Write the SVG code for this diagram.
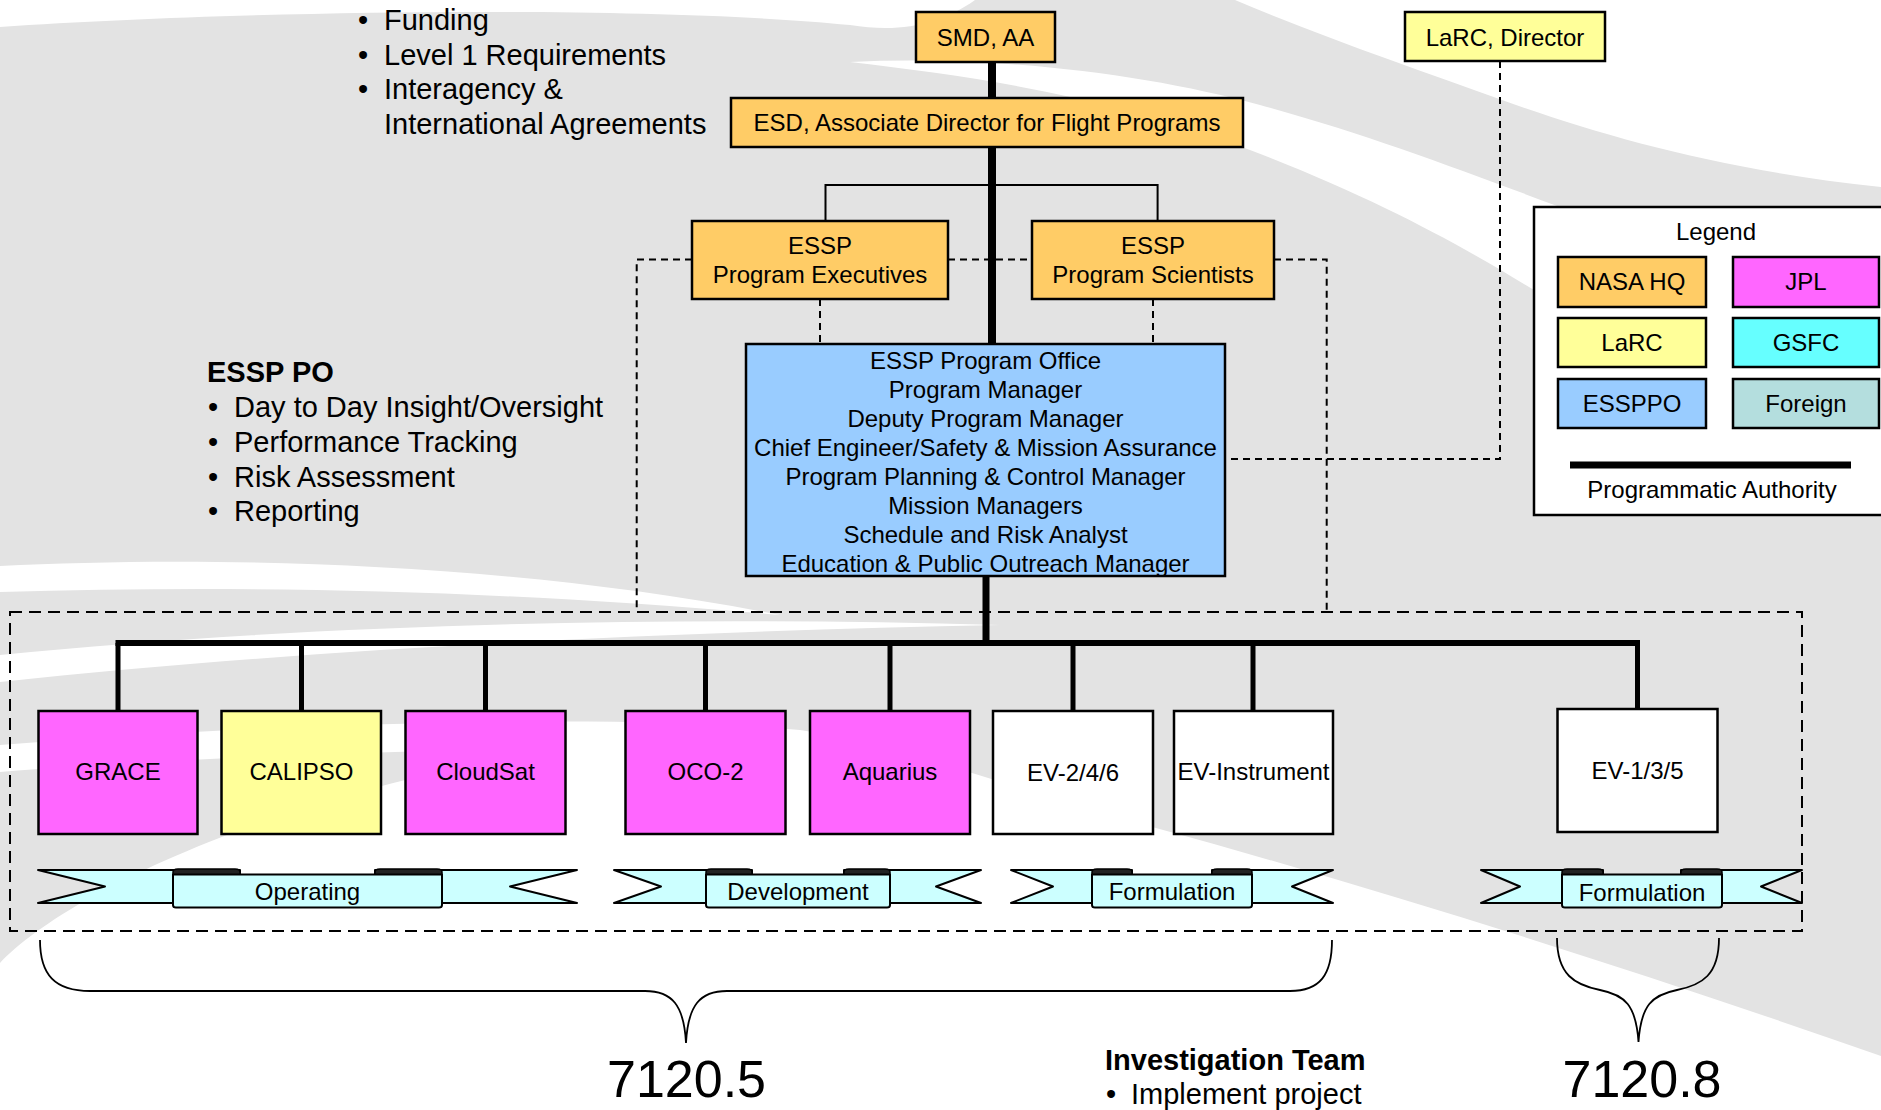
<svg xmlns="http://www.w3.org/2000/svg" width="1881" height="1110" viewBox="0 0 1881 1110">
<defs>
<style>
text{font-family:"Liberation Sans",Arial,Helvetica,sans-serif;fill:#000}
.t24{font-size:24px}
.t29{font-size:29px}
.big{font-size:52px}
.c{text-anchor:middle}
.bd{font-weight:bold}
.box{stroke:#000;stroke-width:2.5}
.hq{fill:#ffcc66}.jpl{fill:#ff66ff}.larc{fill:#ffff99}.gsfc{fill:#66ffff}.po{fill:#99ccff}.for{fill:#b4dede}.wh{fill:#fff}
.thk{stroke:#000;fill:none}
.thin{stroke:#000;stroke-width:2;fill:none}
.dash{stroke:#000;stroke-width:2;fill:none;stroke-dasharray:7 5}
.frame{stroke:#000;stroke-width:2;fill:none;stroke-dasharray:12 7}
.rib{fill:#ccffff;stroke:#000;stroke-width:2;stroke-linejoin:round}
.tab{fill:#222;stroke:#000;stroke-width:1.5}
.brace{stroke:#000;stroke-width:1.8;fill:none}
</style>
</defs>

<g id="background">
<rect width="1881" height="1110" fill="#e3e3e3"/>
<path fill="#fff" d="M0,0 L0,27 C250,10 650,5 850,25 C900,33 940,25 975,0 Z"/>
<path fill="#fff" d="M1235,0 C1330,40 1420,70 1502,100 C1600,135 1720,170 1881,187 L1881,0 Z"/>
<path fill="#fff" d="M850,62 C1000,55 1150,75 1260,105 C1370,135 1460,170 1560,207 L1534,290 C1460,245 1380,200 1250,150 C1120,100 990,78 850,62 Z"/>
<path fill="#fff" d="M0,566 C200,556 500,560 780,615 C500,590 250,585 0,592 Z"/>
<path fill="#fff" d="M0,655 C300,625 650,615 1000,625 C650,632 300,650 0,682 Z"/>
<path fill="#fff" d="M0,745 C250,725 600,712 800,730 C900,745 1000,785 1156,828 C1400,895 1650,975 1881,1056 L1881,1110 L0,1110 L0,963 C60,900 250,800 560,748 C350,752 150,760 0,772 Z"/>
</g>

<g id="frame">
<rect class="frame" x="10" y="612" width="1792" height="319"/>
</g>

<g id="connectors">
<line class="thk" x1="992" y1="61" x2="992" y2="99" stroke-width="8"/>
<line class="thk" x1="992" y1="146" x2="992" y2="345" stroke-width="8"/>
<line class="thk" x1="986" y1="575" x2="986" y2="645" stroke-width="7"/>
<line class="thk" x1="115.5" y1="643" x2="1640" y2="643" stroke-width="6"/>
<g class="thk" stroke-width="5">
<line x1="118" y1="643" x2="118" y2="711"/>
<line x1="301.5" y1="643" x2="301.5" y2="711"/>
<line x1="485.5" y1="643" x2="485.5" y2="711"/>
<line x1="705.5" y1="643" x2="705.5" y2="711"/>
<line x1="890" y1="643" x2="890" y2="711"/>
<line x1="1073" y1="643" x2="1073" y2="711"/>
<line x1="1253" y1="643" x2="1253" y2="711"/>
<line x1="1637.5" y1="643" x2="1637.5" y2="709"/>
</g>
<path class="thin" d="M825.5,221 V185 H1157.6 V221"/>
<path class="dash" d="M692,259.5 H636.7 V612"/>
<path class="dash" d="M948,259.5 H1032"/>
<path class="dash" d="M1274,259.5 H1326.7 V612"/>
<path class="dash" d="M820,299 V344"/>
<path class="dash" d="M1153,299 V344"/>
<path class="dash" d="M1500,61 V459 H1225"/>
</g>

<g id="smd">
<rect class="box hq" x="916" y="12" width="139" height="50"/>
<text class="t24 c" x="985.5" y="46">SMD, AA</text>
</g>
<g id="larc-director">
<rect class="box larc" x="1405" y="12" width="200" height="49"/>
<text class="t24 c" x="1505" y="46">LaRC, Director</text>
</g>
<g id="esd">
<rect class="box hq" x="731" y="98" width="512" height="49"/>
<text class="t24 c" x="987" y="131">ESD, Associate Director for Flight Programs</text>
</g>
<g id="essp-pe">
<rect class="box hq" x="692" y="221" width="256" height="78"/>
<text class="t24 c" x="820" y="254">ESSP</text>
<text class="t24 c" x="820" y="283">Program Executives</text>
</g>
<g id="essp-ps">
<rect class="box hq" x="1032" y="221" width="242" height="78"/>
<text class="t24 c" x="1153" y="254">ESSP</text>
<text class="t24 c" x="1153" y="283">Program Scientists</text>
</g>
<g id="essp-po">
<rect class="box po" x="746" y="344" width="479" height="232"/>
<text class="t24 c" x="985.5" y="369">ESSP Program Office</text>
<text class="t24 c" x="985.5" y="398">Program Manager</text>
<text class="t24 c" x="985.5" y="427">Deputy Program Manager</text>
<text class="t24 c" x="985.5" y="456">Chief Engineer/Safety &amp; Mission Assurance</text>
<text class="t24 c" x="985.5" y="485">Program Planning &amp; Control Manager</text>
<text class="t24 c" x="985.5" y="514">Mission Managers</text>
<text class="t24 c" x="985.5" y="543">Schedule and Risk Analyst</text>
<text class="t24 c" x="985.5" y="572">Education &amp; Public Outreach Manager</text>
</g>

<g id="grace"><rect class="box jpl" x="38.5" y="711" width="159" height="123"/><text class="t24 c" x="118" y="780">GRACE</text></g>
<g id="calipso"><rect class="box larc" x="221.5" y="711" width="159.5" height="123"/><text class="t24 c" x="301.5" y="780">CALIPSO</text></g>
<g id="cloudsat"><rect class="box jpl" x="405.5" y="711" width="160" height="123"/><text class="t24 c" x="485.5" y="780">CloudSat</text></g>
<g id="oco2"><rect class="box jpl" x="625.5" y="711" width="160" height="123"/><text class="t24 c" x="705.5" y="780">OCO-2</text></g>
<g id="aquarius"><rect class="box jpl" x="810" y="711" width="160" height="123"/><text class="t24 c" x="890" y="780">Aquarius</text></g>
<g id="ev246"><rect class="box wh" x="993" y="711" width="160" height="123"/><text class="t24 c" x="1073" y="781">EV-2/4/6</text></g>
<g id="evinst"><rect class="box wh" x="1174" y="711" width="159" height="123"/><text class="t24 c" x="1253.5" y="780">EV-Instrument</text></g>
<g id="ev135"><rect class="box wh" x="1557.5" y="709" width="160" height="123"/><text class="t24 c" x="1637.5" y="779">EV-1/3/5</text></g>

<g id="banner-operating">
<path class="rib" d="M38,870 H240 V903 H38 L105,886.5 Z"/>
<path class="rib" d="M577,870 H375 V903 H577 L510,886.5 Z"/>
<path class="tab" d="M173,876 V872 Q173,869 178,869 H235 Q240,869 240,872 V876 Z"/>
<path class="tab" d="M375,876 V872 Q375,869 380,869 H437 Q442,869 442,872 V876 Z"/>
<path class="rib" d="M173,874.5 H442 V905 Q442,907.5 439,907.5 H176 Q173,907.5 173,905 Z"/>
<text class="t24 c" x="307.5" y="900">Operating</text>
</g>
<g id="banner-development">
<path class="rib" d="M614,870 H752 V903 H614 L661,886.5 Z"/>
<path class="rib" d="M981,870 H844 V903 H981 L936,886.5 Z"/>
<path class="tab" d="M706,876 V872 Q706,869 711,869 H747 Q752,869 752,872 V876 Z"/>
<path class="tab" d="M844,876 V872 Q844,869 849,869 H885 Q890,869 890,872 V876 Z"/>
<path class="rib" d="M706,874.5 H890 V905 Q890,907.5 887,907.5 H709 Q706,907.5 706,905 Z"/>
<text class="t24 c" x="798" y="900">Development</text>
</g>
<g id="banner-formulation-1">
<path class="rib" d="M1011,870 H1132 V903 H1011 L1053,886.5 Z"/>
<path class="rib" d="M1333,870 H1212 V903 H1333 L1292,886.5 Z"/>
<path class="tab" d="M1092,876 V872 Q1092,869 1097,869 H1127 Q1132,869 1132,872 V876 Z"/>
<path class="tab" d="M1212,876 V872 Q1212,869 1217,869 H1247 Q1252,869 1252,872 V876 Z"/>
<path class="rib" d="M1092,874.5 H1252 V905 Q1252,907.5 1249,907.5 H1095 Q1092,907.5 1092,905 Z"/>
<text class="t24 c" x="1172" y="900">Formulation</text>
</g>
<g id="banner-formulation-2">
<path class="rib" d="M1481,870 H1603 V903 H1481 L1520,886.5 Z"/>
<path class="rib" d="M1802,870 H1681 V903 H1802 L1761,886.5 Z"/>
<path class="tab" d="M1562,876 V872 Q1562,869 1567,869 H1598 Q1603,869 1603,872 V876 Z"/>
<path class="tab" d="M1681,876 V872 Q1681,869 1686,869 H1717 Q1722,869 1722,872 V876 Z"/>
<path class="rib" d="M1562,874.5 H1722 V905 Q1722,907.5 1719,907.5 H1565 Q1562,907.5 1562,905 Z"/>
<text class="t24 c" x="1642" y="901">Formulation</text>
</g>

<g id="braces">
<path class="brace" d="M40,940 C40,975 55,991 90,991 L645,991 C672,991 684,1005 686,1043 C688,1005 700,991 727,991 L1290,991 C1320,991 1332,975 1332,940"/>
<path class="brace" d="M1557,938 C1557,975 1575,985 1600,990 C1625,995 1636,1005 1638.5,1042 C1641,1005 1652,995 1677,990 C1702,985 1719,975 1719,938"/>
<text class="big c" x="686.5" y="1097">7120.5</text>
<text class="big c" x="1642" y="1097">7120.8</text>
</g>

<g id="hq-notes">
<text class="t29 c" x="363" y="30">•</text><text class="t29" x="384" y="30">Funding</text>
<text class="t29 c" x="363" y="64.5">•</text><text class="t29" x="384" y="64.5">Level 1 Requirements</text>
<text class="t29 c" x="363" y="99">•</text><text class="t29" x="384" y="99">Interagency &amp;</text>
<text class="t29" x="384" y="134">International Agreements</text>
</g>
<g id="po-notes">
<text class="t29 bd" x="207" y="382">ESSP PO</text>
<text class="t29 c" x="213" y="417">•</text><text class="t29" x="234" y="417">Day to Day Insight/Oversight</text>
<text class="t29 c" x="213" y="452">•</text><text class="t29" x="234" y="452">Performance Tracking</text>
<text class="t29 c" x="213" y="486.5">•</text><text class="t29" x="234" y="486.5">Risk Assessment</text>
<text class="t29 c" x="213" y="521">•</text><text class="t29" x="234" y="521">Reporting</text>
</g>
<g id="team-notes">
<text class="t29 bd" x="1105" y="1070">Investigation Team</text>
<text class="t29 c" x="1111" y="1104">•</text><text class="t29" x="1131" y="1104">Implement project</text>
</g>

<g id="legend">
<rect x="1534" y="207" width="380" height="308" fill="#fff" stroke="#000" stroke-width="2.5"/>
<text class="t24 c" x="1716" y="240">Legend</text>
<rect class="box hq" x="1558" y="257" width="148" height="50"/>
<rect class="box jpl" x="1733" y="257" width="146" height="50"/>
<rect class="box larc" x="1558" y="318" width="148" height="49"/>
<rect class="box gsfc" x="1733" y="318" width="146" height="49"/>
<rect class="box po" x="1558" y="379" width="148" height="49"/>
<rect class="box for" x="1733" y="379" width="146" height="49"/>
<text class="t24 c" x="1632" y="290">NASA HQ</text>
<text class="t24 c" x="1806" y="290">JPL</text>
<text class="t24 c" x="1632" y="351">LaRC</text>
<text class="t24 c" x="1806" y="351">GSFC</text>
<text class="t24 c" x="1632" y="412">ESSPPO</text>
<text class="t24 c" x="1806" y="412">Foreign</text>
<line x1="1570" y1="465" x2="1851" y2="465" stroke="#000" stroke-width="7"/>
<text class="t24 c" x="1712" y="498">Programmatic Authority</text>
</g>
</svg>
